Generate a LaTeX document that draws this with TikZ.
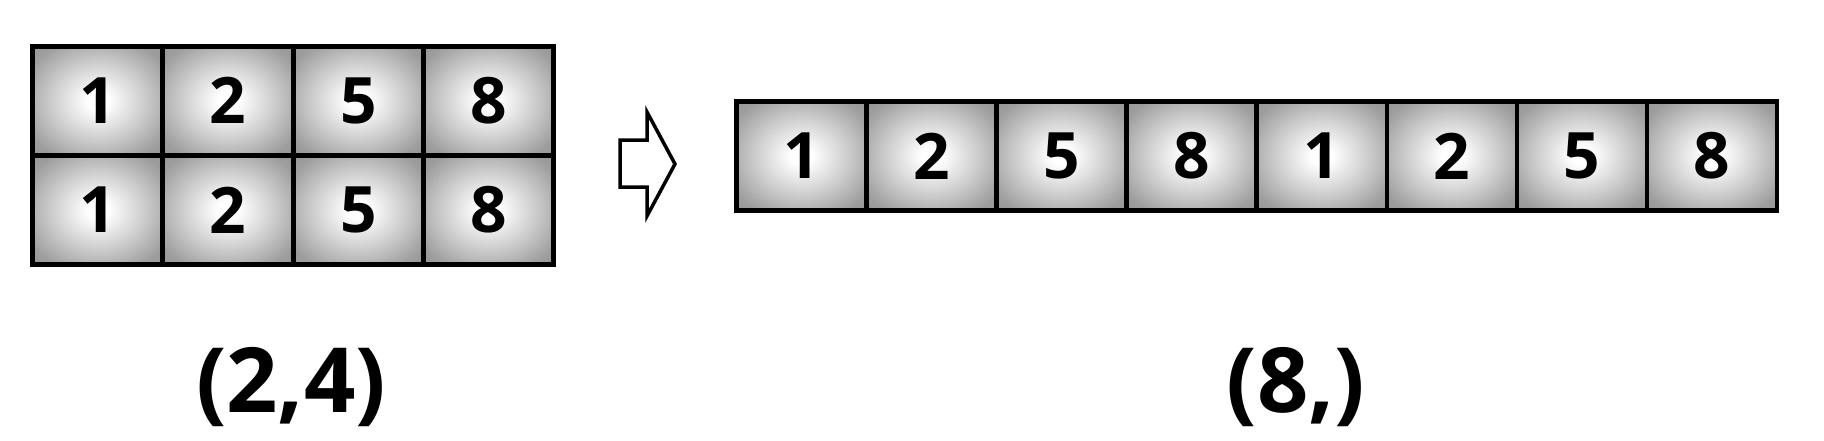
\documentclass[tikz,border=0pt]{standalone}
\usepackage{fontspec}
\setmainfont{Open Sans}
\usepackage{tikz}

\pgfdeclareradialshading{cellshade}{\pgfpoint{0bp}{0bp}}{%
  color(0bp)=(white); color(4bp)=(white);
  color(18bp)=(black!20); color(30bp)=(black!38); color(50bp)=(black!50)}

\begin{document}
\begin{tikzpicture}[x=1pt,y=-1pt,
cellbox/.style={draw, line width=4.5pt, shading=cellshade,
                inner sep=0pt, outer sep=0pt,
                minimum width=130pt, minimum height=109pt,
                font=\fontsize{64}{66}\selectfont\bfseries},
shapelabel/.style={anchor=base, font=\fontsize{90}{92}\selectfont\bfseries}]
    \useasboundingbox (0,0) rectangle (1824,440);
    % (2,4) grid
    \foreach \v [count=\i from 0] in {1,2,5,8}
      {
        \node[cellbox] (a1\i) at (97.7+130.3*\i, 100.8) {\v};
        \node[cellbox] (a2\i) at (97.7+130.3*\i, 210) {\v};
      }
    % (8,) strip
    \foreach \v [count=\i from 0] in {1,2,5,8,1,2,5,8}
        \node[cellbox] (b\i) at (801.4+130.1*\i, 155.9) {\v};
    % hollow arrow
    \draw [line width=3.5pt, line join=miter]
          (620,140) -- (647,140) -- (647,112) -- (675,164)
          -- (647,216) -- (647,187) -- (620,187) -- cycle;
    \node[shapelabel] (lblA) at (291,412) {(2,4)};
    \node[shapelabel] (lblB) at (1296,412) {(8,)};
\end{tikzpicture}
\end{document}
